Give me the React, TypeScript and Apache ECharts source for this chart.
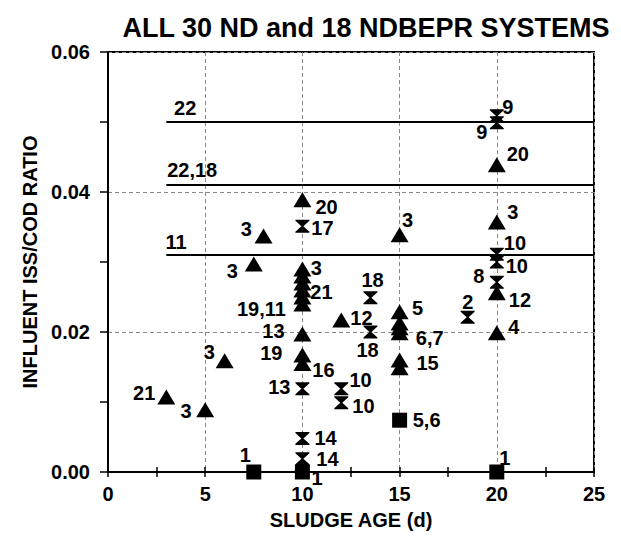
import React, { useEffect, useRef } from "react";
import * as echarts from "echarts";

// ND systems (triangles): [sludge age (d), influent ISS/COD ratio]
const ndPoints: number[][] = [
  [3, 0.0107], [5, 0.0089], [6, 0.0159], [7.5, 0.0297], [8, 0.0337],
  [10, 0.0389], [10, 0.029], [10, 0.028], [10, 0.027], [10, 0.026], [10, 0.025], [10, 0.024],
  [10, 0.0197], [10, 0.0167], [10, 0.0155], [12, 0.0217],
  [15, 0.0339], [15, 0.0229], [15, 0.0213], [15, 0.0206], [15, 0.0199], [15, 0.016], [15, 0.0149],
  [20, 0.0439], [20, 0.0357], [20, 0.0256], [20, 0.0199],
];

// NDBEPR systems (hourglass markers)
const ndbeprPoints: number[][] = [
  [20, 0.0509], [20, 0.0499], [20, 0.0311], [20, 0.030], [20, 0.0271],
  [18.5, 0.0221], [13.5, 0.0249], [13.5, 0.020], [12, 0.0119], [12, 0.0099],
  [10, 0.0351], [10, 0.0119], [10, 0.0048], [10, 0.0019],
];

// Squares
const squarePoints: number[][] = [
  [7.5, 0], [10, 0], [15, 0.0074], [20, 0],
];

// Horizontal reference lines
const refLineStart = 3;
const refLineEnd = 25;
const refLineValues = [0.05, 0.041, 0.031];

// Point / line annotations: [text, x, y]
const annotations: [string, number, number][] = [
  ["22", 3.97, 0.052], ["22,18", 4.33, 0.0431], ["11", 3.5, 0.0329],
  ["21", 1.86, 0.0113], ["3", 4.02, 0.0087], ["3", 5.21, 0.0171], ["3", 6.39, 0.0287], ["3", 7.11, 0.0347],
  ["20", 11.24, 0.0379], ["17", 11.03, 0.0349], ["3", 10.72, 0.0291], ["21", 10.98, 0.0257],
  ["19,11", 7.89, 0.0233], ["13", 8.51, 0.0201], ["19", 8.4, 0.0170], ["16", 11.08, 0.0146],
  ["13", 8.81, 0.0121], ["14", 11.19, 0.0049], ["14", 11.29, 0.0019],
  ["1", 7.06, 0.0024], ["1", 10.75, -0.0009],
  ["12", 13.04, 0.022], ["10", 12.99, 0.0131], ["10", 13.14, 0.0094],
  ["18", 13.61, 0.0274], ["18", 13.35, 0.0174],
  ["3", 15.41, 0.036], ["5", 15.93, 0.0234], ["6,7", 16.55, 0.0191], ["15", 16.44, 0.0156], ["5,6", 16.39, 0.0074],
  ["2", 18.51, 0.0243], ["8", 19.07, 0.028], ["12", 21.19, 0.0246], ["4", 20.88, 0.0207],
  ["10", 20.93, 0.0327], ["10", 21.03, 0.0294], ["3", 20.82, 0.0371], ["20", 21.08, 0.0454],
  ["9", 20.57, 0.0521], ["9", 19.23, 0.0486], ["1", 20.41, 0.002],
];

const xTicks = { min: 0, max: 25, interval: 5 };
const yTicks = { min: 0, max: 0.06, interval: 0.02 };

const FONT = "'Liberation Sans', Arial, Helvetica, sans-serif";
const HOURGLASS = "path://M0,0 L10,0 L10,0.8 L5.7,5 L10,9.2 L10,10 L0,10 L0,9.2 L4.3,5 L0,0.8 Z";

export default function App() {
  const ref = useRef<HTMLDivElement>(null);

  useEffect(() => {
    document.body.style.margin = "0";
    if (!ref.current) return;
    const chart = echarts.init(ref.current, null, { renderer: "svg" });

    const dashed = { show: true, lineStyle: { color: "#8a8a8a", type: [4, 3] as any, width: 1 } };
    const markStyle = { color: "#000", opacity: 1 };

    const option: any = {
      animation: false,
      backgroundColor: "#fff",
      textStyle: { fontFamily: FONT },
      title: {
        text: "ALL 30 ND and 18 NDBEPR SYSTEMS",
        left: 361,
        top: 9,
        textAlign: "center",
        textStyle: { fontFamily: FONT, fontWeight: "bold", fontSize: 27, color: "#000" },
      },
      grid: {
        left: 108, top: 52, right: 27, bottom: 74,
        show: true, borderColor: "#000", borderWidth: 2, backgroundColor: "transparent",
      },
      xAxis: [
        {
          type: "value",
          min: xTicks.min, max: xTicks.max, interval: xTicks.interval,
          name: "SLUDGE AGE (d)",
          nameLocation: "middle",
          nameGap: 38,
          nameTextStyle: { fontFamily: FONT, fontWeight: "bold", fontSize: 20, color: "#000" },
          axisLine: { show: true, lineStyle: { color: "#000", width: 2 } },
          axisTick: { show: true, inside: false, length: 5, lineStyle: { color: "#000", width: 1.5 } },
          minorTick: { show: true, splitNumber: 2, length: 5, lineStyle: { color: "#000", width: 1.5 } },
          axisLabel: { fontFamily: FONT, fontWeight: "bold", fontSize: 20, color: "#000", margin: 12 },
          splitLine: dashed,
        },
        {
          type: "value",
          position: "bottom",
          min: xTicks.min, max: xTicks.max, interval: xTicks.interval,
          axisLine: { show: false },
          axisTick: { show: true, inside: true, length: 5, lineStyle: { color: "#000", width: 1.5 } },
          minorTick: { show: true, splitNumber: 2, length: 5, lineStyle: { color: "#000", width: 1.5 } },
          axisLabel: { show: false },
          splitLine: { show: false },
        },
      ],
      yAxis: {
        type: "value",
        min: yTicks.min, max: yTicks.max, interval: yTicks.interval,
        name: "INFLUENT ISS/COD RATIO",
        nameLocation: "middle",
        nameGap: 66,
        nameTextStyle: { fontFamily: FONT, fontWeight: "bold", fontSize: 20, color: "#000" },
        axisLine: { show: true, lineStyle: { color: "#000", width: 2 } },
        axisTick: { show: true, inside: false, length: 8, lineStyle: { color: "#000", width: 1.5 } },
        minorTick: { show: true, splitNumber: 2, length: 8, lineStyle: { color: "#000", width: 1.5 } },
        axisLabel: {
          fontFamily: FONT, fontWeight: "bold", fontSize: 20, color: "#000", margin: 18,
          formatter: (v: number) => v.toFixed(2),
        },
        splitLine: dashed,
      },
      series: [
        ...refLineValues.map((v) => ({
          type: "line",
          data: [[refLineStart, v], [refLineEnd, v]],
          symbol: "none",
          lineStyle: { color: "#000", width: 2 },
          silent: true,
          z: 3,
        })),
        {
          type: "scatter",
          data: ndPoints,
          symbol: "triangle",
          symbolSize: [18, 15],
          itemStyle: markStyle,
          z: 4,
        },
        {
          type: "scatter",
          data: ndbeprPoints,
          symbol: HOURGLASS,
          symbolSize: [14, 13],
          itemStyle: markStyle,
          z: 4,
        },
        {
          type: "scatter",
          data: squarePoints,
          symbol: "rect",
          symbolSize: 15,
          itemStyle: markStyle,
          clip: false,
          z: 5,
        },
        {
          type: "scatter",
          data: annotations.map(([t, x, y]) => ({ value: [x, y], name: t })),
          symbolSize: 1,
          itemStyle: { color: "rgba(0,0,0,0)", opacity: 1 },
          clip: false,
          silent: true,
          label: {
            show: true,
            position: "inside",
            formatter: (p: any) => p.name,
            fontFamily: FONT,
            fontWeight: "bold",
            fontSize: 20,
            color: "#000",
            opacity: 1,
            textBorderWidth: 0,
          },
          z: 6,
        },
      ],
    };

    chart.setOption(option);
    return () => chart.dispose();
  }, []);

  return <div ref={ref} style={{ width: 621, height: 546 }} />;
}
